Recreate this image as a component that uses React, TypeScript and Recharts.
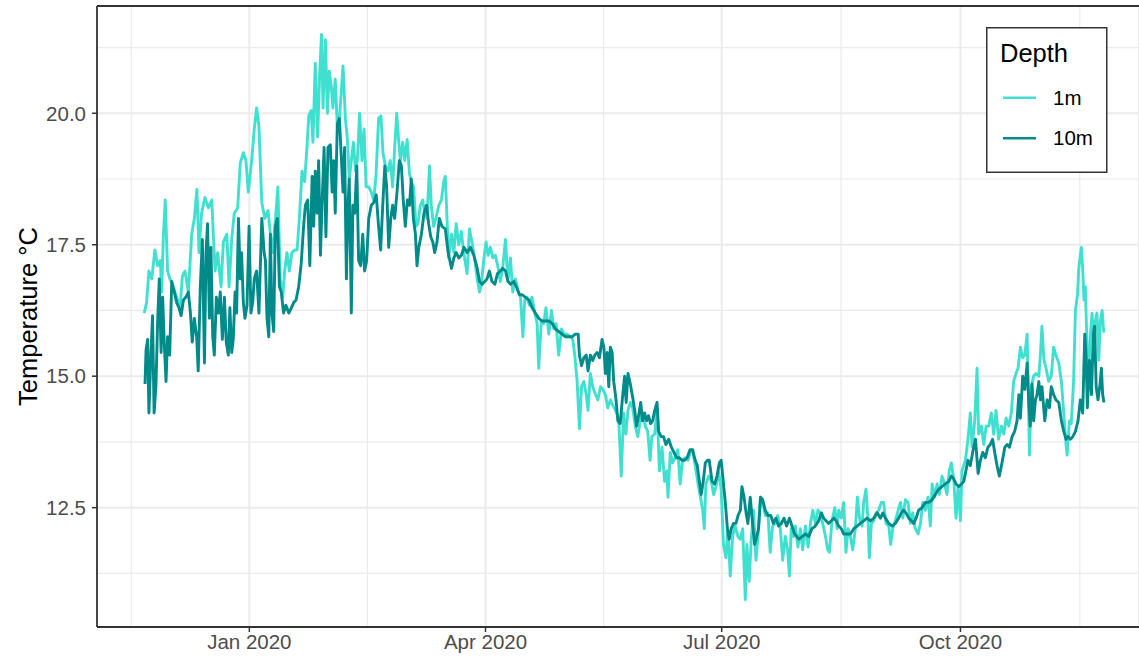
import { LineChart, Line, XAxis, YAxis, CartesianGrid, ReferenceLine, Legend } from 'recharts';

// day offsets are counted from 1 Jan 2020
const X_TICKS = [0, 91, 182, 274];
const X_TICK_LABELS = ['Jan 2020', 'Apr 2020', 'Jul 2020', 'Oct 2020'];
const X_MINOR = [-45.5, 45.5, 136.5, 228, 320];
const Y_TICKS = [12.5, 15, 17.5, 20];
const Y_MINOR = [11.25, 13.75, 16.25, 18.75, 21.25];

// [day, °C]
const TEMP_1M: [number, number][] = [
  [-40.5, 16.2], [-39.6, 16.4], [-38.7, 17.0], [-37.6, 16.85], [-36.4, 17.4], [-35.3, 17.1], [-34.3, 17.2], [-33.8, 16.6],
  [-33.1, 17.7], [-32.4, 18.35], [-31.5, 17.0], [-30.6, 16.85], [-29.3, 16.7], [-28.0, 16.5], [-26.7, 16.3], [-25.8, 16.9],
  [-24.8, 17.0], [-23.5, 16.6], [-22.2, 17.7], [-21.2, 18.0], [-20.2, 18.55], [-19.4, 17.35], [-18.4, 18.1], [-17.1, 18.4],
  [-15.8, 18.2], [-14.5, 18.35], [-13.2, 17.0], [-12.2, 17.35], [-10.9, 16.7], [-10.0, 17.55], [-8.7, 17.7], [-7.8, 16.7],
  [-6.8, 17.6], [-5.8, 18.1], [-4.5, 18.2], [-3.5, 19.05], [-2.3, 19.25], [-1.3, 19.1], [-0.4, 18.5], [0.9, 19.1],
  [1.9, 19.7], [2.8, 20.1], [3.7, 19.75], [4.8, 18.3], [6.0, 18.0],
  [7.2, 18.15], [8.1, 17.7], [9.0, 17.35], [10.0, 17.95], [11.0, 18.6], [11.9, 16.85], [12.9, 16.5], [13.6, 17.0],
  [14.5, 17.35], [15.4, 17.0], [16.4, 17.35], [17.5, 17.4], [18.4, 17.4], [19.4, 18.1], [20.3, 18.9], [21.3, 18.7],
  [22.2, 19.35], [22.9, 19.95], [23.8, 20.05], [24.5, 19.45], [25.4, 20.95], [26.3, 19.55], [27.1, 20.75], [27.8, 21.5],
  [28.4, 20.1], [29.3, 21.4], [30.1, 20.0], [30.8, 20.8], [31.6, 20.5], [32.2, 20.1], [33.1, 20.65], [33.9, 19.75],
  [34.7, 19.9], [35.5, 20.45], [36.1, 20.9], [37.0, 19.9], [37.8, 19.5], [38.5, 18.75], [39.3, 19.1], [40.1, 19.45],
  [40.9, 18.9], [41.6, 19.1], [42.5, 20.0], [43.4, 19.1], [44.2, 19.7], [45.0, 18.6], [46.0, 18.6], [47.0, 18.5],
  [47.9, 18.35], [48.8, 18.8], [49.8, 19.9], [50.7, 19.95], [51.5, 19.25], [52.4, 19.0], [53.4, 18.9], [54.3, 19.1],
  [55.2, 18.6], [56.0, 19.35], [56.8, 20.0], [57.5, 19.5], [58.2, 19.1], [59.1, 19.45], [59.9, 19.1], [60.8, 19.5],
  [61.7, 18.85], [62.4, 18.7], [63.3, 18.6], [64.2, 17.85], [65.0, 17.9], [65.9, 18.25], [66.8, 18.35], [67.6, 18.1],
  [68.5, 18.0], [69.4, 19.0], [70.1, 18.25], [71.0, 17.85], [71.9, 18.0], [73.0, 18.25], [74.0, 18.35], [74.9, 18.7],
  [75.5, 18.8],
  [76.8, 17.25], [77.9, 17.7], [78.8, 17.35], [79.7, 17.9], [80.7, 17.5], [81.7, 17.75], [82.6, 17.35], [83.9, 16.95],
  [84.8, 17.8], [85.8, 17.55], [86.9, 17.2], [87.8, 16.85], [88.7, 16.6], [89.4, 16.75], [90.3, 17.2], [91.2, 17.55],
  [92.0, 17.3], [92.9, 17.45], [93.8, 17.25], [94.8, 17.3], [95.9, 17.05], [96.7, 16.8], [97.6, 17.05], [98.7, 17.6],
  [99.6, 16.8], [100.6, 17.25], [101.5, 16.6], [102.5, 16.85], [103.6, 16.6], [104.5, 16.5], [105.4, 15.75], [106.1, 16.45],
  [107.0, 16.5], [107.9, 16.35], [108.9, 16.5], [110.0, 16.2], [110.9, 16.0], [111.5, 15.15], [112.5, 16.05], [113.4, 16.0],
  [114.3, 16.3], [115.4, 15.8], [116.4, 16.25], [117.3, 15.9], [118.2, 16.0], [119.2, 15.4], [120.3, 15.9], [121.2, 15.8],
  [122.4, 15.8], [123.7, 15.75], [124.6, 15.7], [125.4, 15.4], [126.3, 14.9], [127.2, 14.0], [128.0, 14.8], [128.9, 14.9],
  [129.8, 14.65], [130.5, 14.35], [131.4, 15.05], [132.3, 14.8], [133.4, 14.65], [134.3, 14.55], [135.3, 14.8], [136.2, 14.75],
  [137.2, 14.65], [138.1, 14.4], [139.1, 14.55], [140.0, 14.45], [141.1, 14.35],
  [142.3, 14.2], [143.3, 13.1], [144.2, 14.3], [145.1, 13.9], [145.9, 14.35], [146.8, 14.5], [147.7, 14.4], [148.7, 14.05],
  [149.7, 13.85], [150.6, 14.15], [151.5, 14.3], [152.6, 14.05], [153.5, 13.95], [154.4, 13.4], [155.1, 13.85], [156.2, 13.9],
  [157.1, 14.4], [158.0, 13.2], [159.0, 13.65], [160.0, 13.0], [160.9, 13.2], [161.3, 12.7], [162.2, 13.55], [163.1, 13.35],
  [164.1, 13.45], [165.1, 13.6], [166.0, 12.95], [166.9, 13.4], [168.0, 13.45], [169.0, 13.4], [169.9, 13.55], [170.8, 13.6],
  [171.8, 13.3], [172.9, 12.95], [173.8, 12.7], [174.7, 12.45], [175.3, 12.1], [175.9, 12.95], [177.0, 13.1], [178.0, 13.0],
  [178.9, 12.75], [179.8, 12.9], [180.8, 13.2], [181.8, 12.85], [182.7, 11.8], [183.6, 11.55], [184.4, 12.1], [185.3, 11.2],
  [186.2, 11.95], [187.2, 12.15], [188.3, 11.95], [189.2, 11.9], [190.1, 12.1], [191.1, 10.75], [191.7, 11.8], [192.6, 11.1],
  [193.4, 11.9], [194.3, 12.45], [195.2, 11.5], [196.0, 11.95], [196.9, 12.7], [197.8, 12.6], [198.8, 12.35], [199.8, 12.4],
  [200.7, 11.65], [201.6, 12.15], [202.7, 12.2], [203.6, 12.35], [204.6, 12.1], [205.5, 11.5], [206.5, 11.95], [207.4, 11.7],
  [208.1, 11.2], [208.8, 12.1], [209.7, 11.95],
  [210.4, 12.15], [211.4, 11.75], [212.3, 12.1], [213.2, 11.7], [214.3, 12.15], [215.3, 11.75], [216.2, 12.2], [217.1, 12.45],
  [218.1, 12.2], [219.1, 12.45], [220.0, 12.4], [220.9, 12.2], [222.0, 11.95], [222.9, 11.7], [223.5, 11.65], [224.5, 12.25],
  [225.6, 12.5], [226.5, 12.1], [227.1, 12.45], [228.1, 12.3], [229.0, 12.6], [229.9, 11.65], [230.7, 12.1], [231.6, 11.95],
  [232.5, 11.7], [233.5, 12.1], [234.3, 12.7], [235.1, 12.3], [236.1, 12.15], [236.7, 12.6], [237.6, 12.85], [238.4, 12.25],
  [238.9, 11.55], [239.7, 12.2], [240.6, 12.25], [241.5, 12.4], [242.5, 12.45], [243.5, 12.6], [244.4, 12.6], [245.3, 12.2],
  [246.4, 12.15], [247.1, 11.8], [247.9, 12.1], [248.9, 12.25], [250.0, 12.45], [250.9, 12.6], [251.8, 12.3], [252.8, 12.65],
  [253.8, 12.6], [254.7, 12.2], [255.6, 12.4], [256.6, 12.1], [257.7, 12.0], [258.6, 12.2], [259.5, 12.6], [260.5, 12.45],
  [261.5, 12.7], [262.4, 12.15], [263.1, 12.95], [264.1, 12.7], [265.0, 12.95], [265.9, 12.75], [266.9, 13.1], [267.9, 12.95],
  [268.8, 12.75], [269.7, 13.2], [270.5, 13.35], [271.4, 13.05], [272.3, 12.3], [273.1, 12.9], [274.0, 12.25], [274.6, 13.2],
  [275.9, 13.4], [276.9, 13.8], [277.8, 14.3], [278.5, 13.65], [279.5, 14.15], [280.4, 15.15], [281.0, 13.9], [282.1, 14.05],
  [283.0, 13.7], [283.9, 14.05], [284.9, 14.05], [285.9, 14.3], [286.8, 13.9], [287.7, 14.35], [288.7, 13.8], [289.8, 14.05],
  [290.7, 13.9], [291.6, 14.2], [292.6, 14.05], [293.6, 14.3], [294.5, 14.9], [295.4, 15.05], [296.2, 15.15], [297.1, 15.55],
  [298.0, 15.35], [298.8, 15.4], [299.7, 15.8], [300.6, 13.5], [301.3, 14.8], [302.2, 15.0], [303.1, 15.05], [304.2, 15.0],
  [304.8, 15.4], [305.4, 15.95], [306.2, 15.3], [307.0, 15.15], [308.0, 14.9], [309.0, 15.0], [309.9, 15.55], [310.8, 15.4],
  [311.9, 15.25], [312.9, 14.9], [313.8, 14.3], [314.7, 13.7], [315.1, 13.5], [316.0, 14.15], [316.7, 14.1], [317.6, 14.9],
  [318.3, 16.25], [319.1, 16.55], [319.6, 17.05], [320.2, 17.3], [320.6, 17.45], [321.1, 17.05], [321.6, 16.45], [322.1, 16.7],
  [322.8, 15.55], [323.4, 15.05], [324.1, 15.8], [324.7, 16.2], [325.4, 15.7], [326.0, 16.05], [326.6, 16.2], [327.3, 15.3],
  [327.9, 16.05], [328.6, 16.25], [329.2, 15.85], [329.6, 15.85],
];

// [day, °C]
const TEMP_10M: [number, number][] = [
  [-40.2, 14.85], [-39.8, 15.5], [-39.2, 15.7], [-38.7, 14.3], [-37.9, 15.45], [-37.3, 16.15], [-36.7, 14.3], [-36.0, 14.8],
  [-35.3, 16.1], [-34.7, 16.85], [-34.0, 15.45], [-33.4, 16.5], [-32.8, 15.65], [-32.1, 14.9], [-31.5, 15.75], [-30.7, 15.4],
  [-29.9, 16.8], [-28.9, 16.6], [-28.0, 16.4], [-27.1, 16.3], [-26.3, 16.15], [-25.4, 16.45], [-24.5, 16.5], [-23.5, 16.6],
  [-22.7, 16.2], [-22.0, 15.65], [-21.2, 16.1], [-20.3, 15.75], [-19.7, 15.1], [-18.9, 16.7], [-18.1, 17.6], [-17.3, 15.25],
  [-16.7, 17.35], [-16.1, 17.9], [-15.4, 16.1], [-14.8, 17.45], [-14.1, 15.75], [-13.5, 15.4], [-12.7, 16.5], [-11.9, 16.2],
  [-11.2, 16.6], [-10.4, 15.7], [-9.6, 16.5], [-8.9, 15.65], [-8.1, 15.4], [-7.5, 16.3], [-6.8, 15.45], [-6.2, 15.7],
  [-5.5, 16.6], [-4.9, 16.2], [-4.2, 18.0], [-3.5, 16.85], [-3.0, 17.35], [-2.3, 16.4], [-1.7, 16.1], [-0.9, 16.35],
  [-0.1, 17.85], [0.6, 16.2], [1.3, 16.4], [1.9, 16.85], [2.8, 17.0], [3.7, 16.2], [4.8, 18.0], [5.7, 17.35],
  [6.2, 17.2], [6.8, 16.1], [7.5, 15.75], [8.1, 17.7], [8.7, 16.2], [9.4, 15.85], [10.0, 17.85], [10.8, 18.0],
  [11.6, 16.7], [12.3, 16.6], [13.2, 16.2], [14.1, 16.35], [15.2, 16.2], [16.2, 16.3], [17.1, 16.4], [18.0, 16.45],
  [19.0, 16.7], [20.0, 17.15], [20.9, 17.85], [21.6, 18.25], [22.5, 18.35], [23.3, 17.1], [24.2, 18.8], [24.8, 17.85],
  [25.4, 18.9], [26.1, 18.1], [26.7, 19.1], [27.4, 17.3], [28.0, 18.25], [28.8, 19.35], [29.5, 17.65], [30.3, 19.35],
  [31.2, 19.4], [31.9, 18.5], [32.5, 19.1], [33.1, 18.1], [33.9, 19.8], [34.7, 19.9], [35.5, 19.1], [36.1, 18.5],
  [36.7, 19.35], [37.4, 16.85], [38.0, 18.25], [38.5, 18.75], [39.3, 16.2], [39.9, 18.25], [40.6, 18.1], [41.4, 19.0],
  [42.1, 17.2], [42.9, 17.1], [43.7, 17.7], [44.4, 17.0], [45.2, 17.2], [46.0, 18.0], [47.0, 18.25], [47.9, 18.3],
  [48.9, 18.45], [49.8, 17.85], [50.6, 17.4], [51.4, 18.25], [52.2, 19.0], [52.9, 18.6], [53.7, 17.45], [54.5, 18.0],
  [55.2, 18.25], [56.0, 18.0], [56.9, 18.5], [57.8, 19.1], [58.6, 19.0], [59.3, 18.35], [60.1, 17.85], [60.9, 18.35],
  [61.7, 18.25], [62.4, 18.75], [63.2, 18.0], [64.0, 17.7], [64.6, 17.1], [65.3, 17.45], [66.3, 17.7], [67.3, 18.1],
  [68.3, 18.25], [69.1, 17.9], [69.9, 17.65], [70.7, 17.55], [71.4, 17.35], [72.3, 17.55], [73.2, 18.0], [74.2, 17.85],
  [75.5, 17.8],
  [76.6, 17.35], [77.9, 17.05], [78.8, 17.25], [79.7, 17.35], [80.7, 17.25], [81.7, 17.3], [82.7, 17.45], [83.9, 17.35],
  [85.2, 17.45], [86.5, 17.3], [87.8, 17.05], [88.7, 16.8], [89.7, 16.75], [90.7, 16.8], [91.6, 16.85], [92.5, 17.0],
  [93.5, 16.8], [94.6, 16.75], [95.6, 16.95], [96.7, 17.0], [97.6, 17.05], [98.7, 17.0], [99.7, 16.8], [100.7, 16.75],
  [101.9, 16.8], [102.9, 16.7], [104.1, 16.55], [105.1, 16.55], [106.4, 16.5], [107.7, 16.45], [109.0, 16.3], [110.2, 16.2],
  [111.5, 16.1], [112.8, 16.05], [114.1, 16.05], [115.4, 16.05], [116.7, 16.0], [117.9, 15.9], [119.2, 15.85], [120.5, 15.8],
  [121.8, 15.75], [123.1, 15.75], [124.4, 15.75], [125.6, 15.8], [126.7, 15.8], [127.2, 15.4], [128.0, 15.2], [128.9, 15.35],
  [129.8, 15.4], [130.5, 15.1], [131.4, 15.4], [132.3, 15.3], [133.1, 15.4], [134.0, 15.45], [134.9, 15.35], [135.9, 15.7],
  [136.6, 15.55], [137.2, 15.05], [137.9, 15.45], [138.5, 14.8], [139.1, 15.55], [139.8, 15.45], [140.4, 14.9], [141.3, 14.55],
  [142.0, 14.15], [142.9, 14.1], [143.8, 14.6], [144.6, 15.0], [145.2, 14.5], [145.9, 15.05], [146.8, 14.85], [147.7, 14.6],
  [148.5, 14.35], [149.2, 14.05], [150.0, 14.25], [150.8, 14.5], [151.5, 14.15], [152.3, 14.3], [153.1, 14.15], [153.8, 14.25],
  [154.6, 14.1], [155.4, 14.15], [156.2, 14.35], [157.1, 14.5], [157.7, 13.95], [158.7, 13.85], [159.6, 13.85], [160.5, 13.7],
  [161.6, 13.8], [162.6, 13.65], [163.6, 13.55], [164.6, 13.45], [165.7, 13.45], [166.7, 13.4], [167.7, 13.4], [168.7, 13.45],
  [169.8, 13.6], [170.8, 13.6], [171.8, 13.4], [172.6, 13.3], [173.4, 13.0], [174.1, 12.75], [174.9, 13.0], [175.7, 13.35],
  [176.5, 13.4], [177.2, 13.4], [178.3, 13.0], [179.3, 12.95], [180.2, 13.1], [181.1, 13.35], [181.8, 13.4], [182.6, 13.0],
  [183.4, 12.6], [184.2, 12.1], [184.9, 11.9], [185.7, 12.1], [186.6, 12.2], [187.5, 12.2], [188.3, 12.35], [189.2, 12.45],
  [189.8, 12.9], [190.6, 12.7], [191.4, 12.4], [192.1, 12.2], [193.0, 12.7], [193.9, 12.2], [194.7, 11.8], [195.5, 11.95],
  [196.2, 12.1], [197.0, 12.7], [197.8, 12.65], [198.8, 12.45], [199.8, 12.35], [200.9, 12.35], [201.9, 12.2], [202.9, 12.3],
  [203.9, 12.15], [205.0, 12.2], [206.0, 12.3], [207.0, 12.15], [208.1, 12.3], [209.1, 12.15], [210.1, 12.0],
  [211.7, 11.9], [213.0, 11.95], [214.3, 12.0], [215.5, 11.95], [216.8, 12.1], [218.1, 12.15], [219.4, 12.25], [220.4, 12.4],
  [221.3, 12.3], [222.2, 12.25], [223.2, 12.2], [224.3, 12.25], [225.2, 12.3], [226.1, 12.25], [227.1, 12.15], [228.1, 12.1],
  [229.0, 12.0], [230.3, 12.0], [231.6, 12.0], [232.9, 12.1], [234.2, 12.15], [235.4, 12.2], [236.7, 12.25], [238.0, 12.3],
  [239.3, 12.25], [240.6, 12.3], [241.9, 12.4], [243.2, 12.3], [244.1, 12.4], [245.1, 12.3], [246.4, 12.2], [247.7, 12.15],
  [248.9, 12.2], [250.2, 12.3], [251.2, 12.4], [252.1, 12.45], [253.0, 12.4], [254.1, 12.3], [255.1, 12.25], [256.0, 12.2],
  [256.9, 12.3], [257.9, 12.45], [259.2, 12.5], [260.5, 12.6], [261.8, 12.6], [263.1, 12.65], [264.3, 12.75], [265.6, 12.85],
  [266.9, 12.9], [268.2, 12.95], [269.5, 13.0], [270.5, 13.1], [271.4, 13.05], [272.3, 12.95], [273.3, 12.9], [274.4, 12.95],
  [275.3, 13.0],
  [275.9, 13.15], [276.9, 13.4], [277.8, 13.3], [278.7, 13.55], [279.8, 13.8], [280.8, 13.15], [281.7, 13.4], [282.6, 13.55],
  [283.6, 13.45], [284.6, 13.65], [285.5, 13.7], [286.4, 13.8], [287.2, 13.55], [288.1, 13.3], [289.0, 13.1], [290.0, 13.35],
  [291.1, 13.65], [292.0, 13.7], [292.9, 13.65], [293.9, 13.85], [294.9, 13.95], [295.8, 14.15], [296.5, 14.65], [297.1, 14.2],
  [298.0, 15.0], [298.8, 14.75], [299.7, 15.25], [300.3, 14.55], [300.9, 14.05], [301.6, 14.85], [302.2, 14.15], [302.9, 14.55],
  [303.5, 14.65], [304.2, 14.9], [304.8, 14.55], [305.4, 14.8], [306.5, 14.15], [307.4, 14.55], [308.3, 14.4], [309.0, 14.8],
  [309.9, 14.65], [310.8, 14.55], [311.9, 14.5], [312.9, 14.15], [313.8, 13.95], [314.7, 13.8], [315.5, 13.85], [316.4, 13.8],
  [317.3, 13.85], [318.3, 13.95], [319.3, 14.15], [320.2, 14.55], [321.1, 14.3], [321.9, 15.8], [322.4, 15.4], [322.9, 14.4],
  [323.7, 15.3], [324.5, 14.65], [325.2, 15.8], [325.7, 15.95], [326.3, 14.8], [327.0, 14.55], [327.8, 14.85], [328.3, 15.15],
  [328.8, 14.65], [329.3, 14.5],
];

const SERIES = [
  { name: '1m', color: '#40E0D0', points: TEMP_1M },
  { name: '10m', color: '#008B8B', points: TEMP_10M },
];

const X_DOMAIN = [-58.7, 342.8];
const Y_DOMAIN = [10.23, 22.04];

const FONT = '"Liberation Sans", Arial, sans-serif';
const GRID = '#EBEBEB';
const BORDER = '#333333';
const LINE_W = 2.9;

const tickLabel = (day: number) => X_TICK_LABELS[X_TICKS.indexOf(day)] ?? '';

function DepthLegend() {
  return (
    <svg width={122} height={147} style={{ fontFamily: FONT }}>
      <rect x={0.75} y={0.75} width={120} height={144.5} fill="#fff" stroke={BORDER} strokeWidth={1.5} />
      <text x={14} y={34.7} fontSize={25.5} fill="#000">Depth</text>
      {SERIES.map((s, i) => (
        <g key={s.name}>
          <line x1={17} x2={50} y1={70.7 + i * 40.6} y2={70.7 + i * 40.6} stroke={s.color} strokeWidth={2.6} />
          <text x={67} y={70.7 + i * 40.6} dy="0.35em" fontSize={20.5} fill="#000">{s.name}</text>
        </g>
      ))}
    </svg>
  );
}

export default function App() {
  return (
    <div style={{ position: 'absolute', left: 0, top: 0, fontFamily: FONT, background: '#fff' }}>
      <LineChart width={1139} height={661} margin={{ top: 6, right: 0, bottom: 0, left: 0 }}>
        <CartesianGrid
          horizontalValues={Y_MINOR}
          verticalValues={X_MINOR}
          stroke={GRID}
          strokeWidth={1.2}
        />
        <CartesianGrid stroke={GRID} strokeWidth={2} />
        <XAxis
          type="number"
          dataKey="day"
          domain={X_DOMAIN}
          allowDataOverflow
          ticks={X_TICKS}
          tickFormatter={tickLabel}
          height={34}
          tickSize={5}
          tickMargin={2}
          axisLine={{ stroke: BORDER, strokeWidth: 1.8 }}
          tickLine={{ stroke: BORDER, strokeWidth: 1.5 }}
          tick={{ fill: '#4D4D4D', fontSize: 20.5, fontFamily: FONT }}
        />
        <YAxis
          type="number"
          domain={Y_DOMAIN}
          allowDataOverflow
          ticks={Y_TICKS}
          tickFormatter={(v: number) => v.toFixed(1)}
          width={97}
          tickSize={5}
          tickMargin={6}
          axisLine={{ stroke: BORDER, strokeWidth: 1.8 }}
          tickLine={{ stroke: BORDER, strokeWidth: 1.5 }}
          tick={{ fill: '#4D4D4D', fontSize: 20.5, fontFamily: FONT }}
          label={{
            value: 'Temperature °C',
            angle: -90,
            position: 'center',
            dx: -21,
            style: { fill: '#000', fontSize: 25.5, fontFamily: FONT, textAnchor: 'middle' },
          }}
        />
        <ReferenceLine y={Y_DOMAIN[1]} stroke={BORDER} strokeWidth={1.8} />
        {SERIES.map((s) => (
          <Line
            key={s.name}
            data={s.points.map(([day, temp]) => ({ day, temp }))}
            dataKey="temp"
            name={s.name}
            type="linear"
            stroke={s.color}
            strokeWidth={LINE_W}
            strokeLinejoin="round"
            dot={false}
            activeDot={false}
            isAnimationActive={false}
          />
        ))}
        <Legend
          layout="vertical"
          align="center"
          verticalAlign="middle"
          wrapperStyle={{ left: 986, top: 27, width: 122, height: 147 }}
          content={() => <DepthLegend />}
        />
      </LineChart>
    </div>
  );
}
